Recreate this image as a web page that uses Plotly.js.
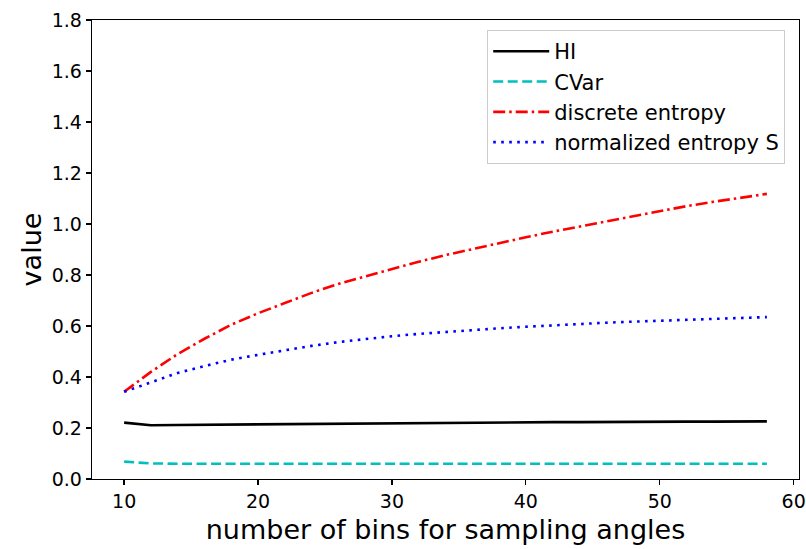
<!DOCTYPE html>
<html>
<head>
<meta charset="utf-8">
<script src="https://cdn.plot.ly/plotly-3.0.1.min.js"></script>
<style>html,body{margin:0;padding:0;background:#fff;}#chart{width:806px;height:549px;}</style>
</head>
<body>
<div id="chart"></div>
<script>
var bins = [10,12,14,16,18,20,22,24,26,28,30,32,34,36,38,40,42,44,46,48,50,52,54,56,58];
var hiValues = [0.221,0.211,0.212,0.213,0.214,0.215,0.216,0.217,0.218,0.219,0.22,0.22,0.221,0.221,0.222,0.222,0.223,0.223,0.224,0.224,0.225,0.225,0.225,0.226,0.226];
var cvarValues = [0.068,0.061,0.06,0.06,0.06,0.06,0.06,0.06,0.06,0.06,0.06,0.06,0.06,0.06,0.06,0.06,0.06,0.06,0.06,0.06,0.06,0.06,0.06,0.06,0.06];
var discreteEntropy = [0.342,0.42,0.49,0.55,0.605,0.65,0.69,0.73,0.765,0.795,0.825,0.852,0.878,0.902,0.925,0.948,0.97,0.99,1.01,1.03,1.052,1.07,1.087,1.103,1.118];
var normalizedEntropy = [0.342,0.38,0.416,0.443,0.468,0.487,0.505,0.522,0.537,0.549,0.56,0.569,0.577,0.584,0.591,0.597,0.603,0.608,0.613,0.617,0.621,0.625,0.628,0.632,0.635];
var seriesNames = ['HI','CVar','discrete entropy','normalized entropy S'];
var xTickVals = [10,20,30,40,50,60];
var yTickVals = [0,0.2,0.4,0.6,0.8,1.0,1.2,1.4,1.6,1.8];

var font = 'DejaVu Sans, sans-serif';
var traces = [
  {x: bins, y: hiValues, name: seriesNames[0], mode: 'lines', legendgroup: 'a',
   line: {color: '#000000', width: 2.6, dash: 'solid'}},
  {x: bins, y: cvarValues, name: seriesNames[1], mode: 'lines', legendgroup: 'b',
   line: {color: '#00bfbf', width: 2.6, dash: '10px,4.5px'}},
  {x: bins, y: discreteEntropy, name: seriesNames[2], mode: 'lines', legendgroup: 'c',
   line: {color: '#ff0000', width: 2.6, dash: '12px,4px,2.5px,4px'}},
  {x: bins, y: normalizedEntropy, name: seriesNames[3], mode: 'lines', legendgroup: 'd',
   line: {color: '#0000ff', width: 2.6, dash: '2.6px,5.4px'}}
];
var layout = {
  width: 806, height: 549,
  margin: {l: 92, r: 7, t: 20, b: 70},
  paper_bgcolor: '#ffffff', plot_bgcolor: '#ffffff',
  font: {family: font, size: 21, color: '#000'},
  showlegend: true,
  legend: {x: 0.559, y: 0.978, xanchor: 'left', yanchor: 'top',
           bgcolor: 'rgba(255,255,255,0.8)', bordercolor: '#cccccc', borderwidth: 1,
           font: {family: font, size: 21, color: '#000'},
           traceorder: 'grouped', tracegroupgap: 0, itemwidth: 56},
  xaxis: {range: [7.6, 60.4], tickvals: xTickVals, ticks: 'outside', ticklen: 5, tickwidth: 1.3,
          tickcolor: '#000', showgrid: false, zeroline: false, showline: true, mirror: true,
          linecolor: '#000', linewidth: 1.3, tickfont: {family: font, size: 19},
          title: {text: 'number of bins for sampling angles', font: {family: font, size: 27}, standoff: 9}},
  yaxis: {range: [0, 1.8], tickvals: yTickVals, tickformat: '.1f', ticks: 'outside', ticklen: 5, tickwidth: 1.3,
          tickcolor: '#000', showgrid: false, zeroline: false, showline: true, mirror: true,
          linecolor: '#000', linewidth: 1.3, tickfont: {family: font, size: 19},
          title: {text: 'value', font: {family: font, size: 27}, standoff: 2}}
};
Plotly.newPlot('chart', traces, layout, {displayModeBar: false, staticPlot: true});
</script>
</body>
</html>
